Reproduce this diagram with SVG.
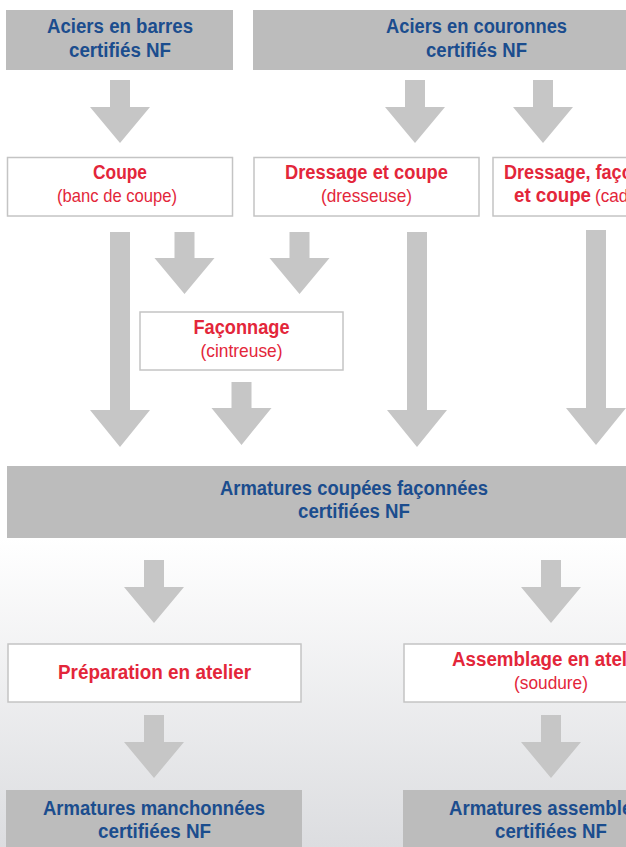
<svg xmlns="http://www.w3.org/2000/svg" width="626" height="847" viewBox="0 0 626 847">
<defs>
<linearGradient id="bg" x1="0" y1="538" x2="0" y2="847" gradientUnits="userSpaceOnUse">
<stop offset="0" stop-color="#ffffff"/>
<stop offset="1" stop-color="#dcdde0"/>
</linearGradient>
<style>
.gbox{fill:#bcbcbc}
.wbox{fill:#ffffff;stroke:#c4c4c4;stroke-width:1.5}
.arr{fill:#c6c6c6}
.t{font-family:"Liberation Sans",Arial,sans-serif;text-anchor:middle}
.blue{fill:#1b4d8e;font-weight:bold;font-size:20px}
.redb{fill:#e3263a;font-weight:bold;font-size:20px}
.redr{fill:#e3263a;font-weight:normal;font-size:19px}
</style>
</defs>
<rect x="0" y="0" width="626" height="847" fill="#ffffff"/>
<rect x="0" y="538" width="626" height="309" fill="url(#bg)"/>

<g id="connectors">
<polygon class="arr" points="110,80 130,80 130,107 150,107 120,143 90,107 110,107"/>
<polygon class="arr" points="405,80 425,80 425,107 445,107 415,143 385,107 405,107"/>
<polygon class="arr" points="533,80 553,80 553,107 573,107 543,143 513,107 533,107"/>
<polygon class="arr" points="110,232 130,232 130,410 150,410 120,447 90,410 110,410"/>
<polygon class="arr" points="174.5,232 194.5,232 194.5,258 214.5,258 184.5,294 154.5,258 174.5,258"/>
<polygon class="arr" points="289.5,232 309.5,232 309.5,258 329.5,258 299.5,294 269.5,258 289.5,258"/>
<polygon class="arr" points="407,232 427,232 427,410 447,410 417,447 387,410 407,410"/>
<polygon class="arr" points="586,230 606,230 606,408 626,408 596,445 566,408 586,408"/>
<polygon class="arr" points="231.5,382 251.5,382 251.5,408 271.5,408 241.5,445 211.5,408 231.5,408"/>
<polygon class="arr" points="144,560 164,560 164,587 184,587 154,623 124,587 144,587"/>
<polygon class="arr" points="541,560 561,560 561,587 581,587 551,623 521,587 541,587"/>
<polygon class="arr" points="144,715 164,715 164,742 184,742 154,778 124,742 144,742"/>
<polygon class="arr" points="541,715 561,715 561,742 581,742 551,778 521,742 541,742"/>
</g>

<g id="aciers-barres">
<rect class="gbox" x="6" y="10" width="227" height="60"/>
<text class="t blue" x="120" y="33" textLength="146" lengthAdjust="spacingAndGlyphs">Aciers en barres</text>
<text class="t blue" x="120" y="57" textLength="102" lengthAdjust="spacingAndGlyphs">certifiés NF</text>
</g>

<g id="aciers-couronnes">
<rect class="gbox" x="253" y="10" width="447" height="60"/>
<text class="t blue" x="476.5" y="33" textLength="181" lengthAdjust="spacingAndGlyphs">Aciers en couronnes</text>
<text class="t blue" x="476.5" y="57" textLength="101" lengthAdjust="spacingAndGlyphs">certifiés NF</text>
</g>

<g id="coupe">
<rect class="wbox" x="7.5" y="157.5" width="225" height="58.5"/>
<text class="t redb" x="120" y="179" textLength="54" lengthAdjust="spacingAndGlyphs">Coupe</text>
<text class="t redr" x="117" y="202" textLength="120" lengthAdjust="spacingAndGlyphs">(banc de coupe)</text>
</g>

<g id="dressage-coupe">
<rect class="wbox" x="254" y="157.5" width="225" height="58.5"/>
<text class="t redb" x="366.5" y="179" textLength="163" lengthAdjust="spacingAndGlyphs">Dressage et coupe</text>
<text class="t redr" x="366.5" y="202" textLength="91" lengthAdjust="spacingAndGlyphs">(dresseuse)</text>
</g>

<g id="dressage-faconnage-coupe">
<rect class="wbox" x="493" y="157.5" width="206" height="58.5"/>
<text class="t redb" x="595" y="179" textLength="182" lengthAdjust="spacingAndGlyphs">Dressage, façonnage</text>
<text class="t" x="514" y="202" style="text-anchor:start"><tspan class="redb" x="514" textLength="77" lengthAdjust="spacingAndGlyphs">et coupe</tspan><tspan class="redr" x="595" textLength="82" lengthAdjust="spacingAndGlyphs">(cadreuse)</tspan></text>
</g>

<g id="faconnage">
<rect class="wbox" x="140" y="312" width="203" height="58"/>
<text class="t redb" x="241.5" y="334" textLength="96" lengthAdjust="spacingAndGlyphs">Façonnage</text>
<text class="t redr" x="241.5" y="357" textLength="82" lengthAdjust="spacingAndGlyphs">(cintreuse)</text>
</g>

<g id="armatures-coupees">
<rect class="gbox" x="7" y="466" width="694" height="72"/>
<text class="t blue" x="354" y="495" textLength="268" lengthAdjust="spacingAndGlyphs">Armatures coupées façonnées</text>
<text class="t blue" x="354" y="518" textLength="112" lengthAdjust="spacingAndGlyphs">certifiées NF</text>
</g>

<g id="preparation">
<rect class="wbox" x="8" y="644" width="293" height="58"/>
<text class="t redb" x="154.5" y="679" textLength="193" lengthAdjust="spacingAndGlyphs">Préparation en atelier</text>
</g>

<g id="assemblage">
<rect class="wbox" x="404" y="644" width="294" height="58"/>
<text class="t redb" x="551" y="666" textLength="198" lengthAdjust="spacingAndGlyphs">Assemblage en atelier</text>
<text class="t redr" x="551" y="689" textLength="74" lengthAdjust="spacingAndGlyphs">(soudure)</text>
</g>

<g id="armatures-manchonnees">
<rect class="gbox" x="6" y="790" width="296" height="60"/>
<text class="t blue" x="154" y="815" textLength="222" lengthAdjust="spacingAndGlyphs">Armatures manchonnées</text>
<text class="t blue" x="154.5" y="838" textLength="113" lengthAdjust="spacingAndGlyphs">certifiées NF</text>
</g>

<g id="armatures-assemblees">
<rect class="gbox" x="403" y="790" width="296" height="60"/>
<text class="t blue" x="551" y="815" textLength="204" lengthAdjust="spacingAndGlyphs">Armatures assemblées</text>
<text class="t blue" x="551" y="838" textLength="112" lengthAdjust="spacingAndGlyphs">certifiées NF</text>
</g>
</svg>
